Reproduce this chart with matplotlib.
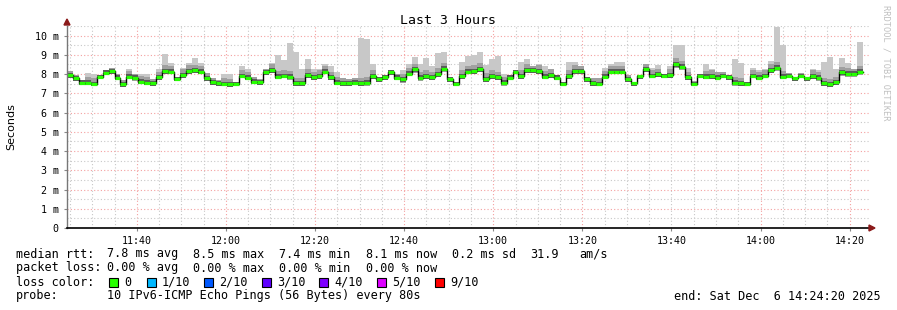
import numpy as np
import matplotlib
matplotlib.use("Agg")
import matplotlib.pyplot as plt

# median rtt per 80 s step (ms), starting 11:24:20
median = [7.95, 7.78, 7.55, 7.55, 7.48, 7.83, 8.07, 8.16, 7.81, 7.47, 7.86, 7.81, 7.60, 7.55, 7.52,
          7.83, 8.16, 8.12, 7.74, 7.95, 8.17, 8.19, 8.12, 7.78, 7.57, 7.52, 7.48, 7.47, 7.48, 7.91,
          7.81, 7.60, 7.57, 8.09, 8.22, 7.86, 7.91, 7.86, 7.52, 7.52, 7.95, 7.83, 7.91, 8.12, 7.83,
          7.55, 7.52, 7.52, 7.55, 7.52, 7.55, 7.91, 7.72, 7.83, 8.09, 7.81, 7.72, 8.03, 8.24, 7.81,
          7.91, 7.83, 8.00, 8.29, 7.72, 7.48, 7.90, 8.12, 8.16, 8.26, 7.74, 7.91, 7.83, 7.55, 7.81,
          8.12, 7.91, 8.21, 8.21, 8.16, 7.86, 7.95, 7.81, 7.48, 7.91, 8.16, 8.16, 7.72, 7.52, 7.48,
          7.86, 8.12, 8.12, 8.12, 7.72, 7.52, 7.90, 8.26, 7.91, 7.98, 7.91, 7.95, 8.52, 8.38, 7.83,
          7.48, 7.91, 7.86, 7.90, 7.81, 7.91, 7.83, 7.55, 7.52, 7.48, 7.91, 7.81, 7.91, 8.21, 8.33,
          7.86, 7.91, 7.78, 7.91, 7.78, 7.91, 7.81, 7.52, 7.47, 7.57, 8.09, 8.03, 8.03, 8.12]

# slowest ping per step (top of the smoke)
smoke_hi = [8.17, 7.95, 7.69, 8.07, 8.03, 7.95, 8.21, 8.34, 8.03, 7.69, 8.24, 8.00, 8.00, 8.00, 7.72,
            8.24, 9.02, 8.60, 7.86, 8.34, 8.60, 8.86, 8.60, 8.07, 7.78, 7.69, 8.00, 8.00, 7.60, 8.41,
            8.26, 7.83, 7.74, 8.29, 8.60, 8.98, 8.72, 9.64, 9.16, 8.29, 8.76, 8.29, 8.29, 8.52, 8.41,
            8.12, 7.78, 7.72, 7.78, 9.90, 9.84, 8.55, 7.86, 7.95, 8.21, 8.03, 8.21, 8.55, 8.90, 8.55,
            8.86, 8.41, 9.10, 9.16, 7.86, 7.60, 8.64, 8.95, 8.98, 9.16, 8.47, 8.81, 8.93, 8.03, 7.95,
            8.21, 8.64, 8.76, 8.41, 8.55, 8.41, 8.26, 7.95, 7.60, 8.64, 8.64, 8.41, 7.83, 7.78, 7.78,
            8.34, 8.55, 8.62, 8.62, 7.95, 7.60, 7.95, 8.55, 8.34, 8.47, 8.03, 8.41, 9.50, 9.50, 8.34,
            7.66, 8.03, 8.52, 8.26, 8.12, 8.12, 7.95, 8.81, 8.60, 7.60, 8.34, 8.21, 8.29, 8.69, 10.45,
            9.50, 8.07, 7.86, 8.07, 7.86, 8.29, 8.21, 8.64, 8.90, 8.24, 8.86, 8.59, 8.29, 9.67]

# fastest ping per step (bottom of the smoke)
smoke_lo = [7.80, 7.65, 7.42, 7.42, 7.36, 7.72, 7.95, 8.02, 7.68, 7.34, 7.74, 7.66, 7.46, 7.42, 7.40,
            7.70, 7.98, 8.00, 7.62, 7.82, 8.02, 8.05, 8.00, 7.64, 7.44, 7.40, 7.36, 7.34, 7.36, 7.78,
            7.68, 7.48, 7.45, 7.95, 8.05, 7.72, 7.78, 7.70, 7.36, 7.38, 7.80, 7.70, 7.76, 7.98, 7.70,
            7.42, 7.40, 7.40, 7.42, 7.38, 7.40, 7.76, 7.60, 7.70, 7.95, 7.68, 7.52, 7.88, 8.08, 7.66,
            7.76, 7.70, 7.86, 8.12, 7.60, 7.36, 7.76, 7.98, 8.00, 8.10, 7.60, 7.76, 7.70, 7.40, 7.68,
            7.98, 7.76, 8.05, 8.05, 8.02, 7.72, 7.82, 7.68, 7.36, 7.76, 8.02, 8.02, 7.60, 7.40, 7.36,
            7.72, 7.98, 7.98, 7.98, 7.58, 7.40, 7.76, 8.10, 7.78, 7.84, 7.78, 7.82, 8.30, 8.20, 7.70,
            7.36, 7.78, 7.72, 7.76, 7.68, 7.78, 7.70, 7.38, 7.38, 7.36, 7.78, 7.68, 7.78, 8.05, 8.15,
            7.72, 7.78, 7.66, 7.78, 7.66, 7.76, 7.66, 7.36, 7.34, 7.42, 7.90, 7.86, 7.86, 7.95]

step_min = 80 / 60.0
xtick_labels = ["11:40", "12:00", "12:20", "12:40", "13:00", "13:20", "13:40", "14:00", "14:20"]
first_tick = 15 + 40 / 60.0   # 11:40 is 15m40s after 11:24:20
ytick_vals = list(range(0, 11))

W, H = 897, 310
fig = plt.figure(figsize=(W / 100, H / 100), dpi=100)
ax = fig.add_axes([67 / W, 82 / H, 802 / W, 202 / H])

n = len(median)
edges = np.arange(n + 1) * step_min
lo = np.append(smoke_lo, smoke_lo[-1])
hi = np.append(smoke_hi, smoke_hi[-1])
med = np.array(median)
med_e = np.append(med, med[-1])

# grid
for m in np.arange(first_tick - 15, 180, 5):
    major = abs((m - first_tick) % 20) < 1e-6
    ax.axvline(m, color="#f4a0a0" if major else "#c8c8c8", lw=0.8, ls=(0, (1, 2)), zorder=0)
for v in np.arange(0.5, 10.6, 0.5):
    major = abs(v - round(v)) < 1e-6
    ax.axhline(v, color="#f4a0a0" if major else "#c8c8c8", lw=0.8, ls=(0, (1, 2)), zorder=0)

# smoke
ax.fill_between(edges, lo, hi, step="post", color="#c8c8c8", lw=0, zorder=2)
ax.fill_between(edges, lo, np.minimum(hi, med_e + 0.3), step="post", color="#a0a0a0", lw=0, zorder=3)
ax.fill_between(edges, np.maximum(lo, med_e - 0.14), np.minimum(hi, med_e + 0.12), step="post",
                color="#5a5a5a", lw=0, zorder=4)

# median
ax.step(edges, med_e, where="post", color="black", lw=1.0, zorder=5)
ax.hlines(med, edges[:-1], edges[1:], color="#26ff00", lw=2.3, zorder=6)

ax.set_xlim(0, 180)
ax.set_ylim(0, 10.5)
ax.set_xticks([first_tick + 20 * i for i in range(len(xtick_labels))])
ax.set_xticklabels(xtick_labels)
ax.set_yticks(ytick_vals)
ax.set_yticklabels(["0"] + [f"{v} m" for v in ytick_vals[1:]])
ax.tick_params(labelsize=7.2, length=2, color="#888888", pad=4)
for lab in ax.get_xticklabels() + ax.get_yticklabels():
    lab.set_family("DejaVu Sans Mono")

for s in ["top", "right"]:
    ax.spines[s].set_visible(False)
ax.spines["bottom"].set_color("black")
ax.spines["bottom"].set_linewidth(1.2)
ax.spines["left"].set_color("#777777")
ax.spines["left"].set_linewidth(1.0)
ax.spines["left"].set_zorder(7)
ax.spines["bottom"].set_zorder(7)

# axis arrows
fig.patches.append(plt.Polygon([[64 / W, 1 - 25 / H], [70 / W, 1 - 25 / H], [67 / W, 1 - 19 / H]],
                               closed=True, color="#8b1a1a", transform=fig.transFigure))
fig.patches.append(plt.Polygon([[869 / W, 1 - 225 / H], [869 / W, 1 - 231 / H], [875 / W, 1 - 228 / H]],
                               closed=True, color="#8b1a1a", transform=fig.transFigure))

mono = "DejaVu Sans Mono"
fig.text(448 / W, 1 - 20 / H, "Last 3 Hours", ha="center", va="center", family=mono, fontsize=9.5)
fig.text(11 / W, 1 - 127 / H, "Seconds", rotation=90, ha="center", va="center", fontsize=8)
fig.text(886 / W, 1 - 5 / H, "RRDTOOL / TOBI OETIKER", rotation=-90, ha="center", va="top",
         family=mono, fontsize=6.2, color="#c0c0c0")


def txt(x, y, s, **kw):
    fig.text(x / W, 1 - y / H, s, va="center", family=mono, fontsize=8.5, **kw)


txt(16, 254, "median rtt:")
for x, s in [(107, "7.8 ms avg"), (193, "8.5 ms max"), (279, "7.4 ms min"), (366, "8.1 ms now"),
             (452, "0.2 ms sd"), (530, "31.9"), (579, "am/s")]:
    txt(x, 254, s)
txt(16, 268, "packet loss:")
for x, s in [(107, "0.00 % avg"), (193, "0.00 % max"), (279, "0.00 % min"), (366, "0.00 % now")]:
    txt(x, 268, s)
txt(16, 282, "loss color:")
loss_labels = ["0", "1/10", "2/10", "3/10", "4/10", "5/10", "9/10"]
loss_colors = ["#26ff00", "#00b8ff", "#0059ff", "#5e00ff", "#7e00ff", "#dd00ff", "#ff0000"]
box_x = [109, 147, 204, 262, 319, 377, 435]
for bx, lab, c in zip(box_x, loss_labels, loss_colors):
    fig.patches.append(plt.Rectangle((bx / W, 1 - 287 / H), 9 / W, 9 / H, facecolor=c,
                                     edgecolor="black", lw=0.8, transform=fig.transFigure))
    txt(bx + 15, 282, lab)
txt(16, 296, "probe:")
txt(107, 296, "10 IPv6-ICMP Echo Pings (56 Bytes) every 80s")
txt(881, 296, "end: Sat Dec  6 14:24:20 2025", ha="right")

fig.savefig("out.png", dpi=100, facecolor="white")
